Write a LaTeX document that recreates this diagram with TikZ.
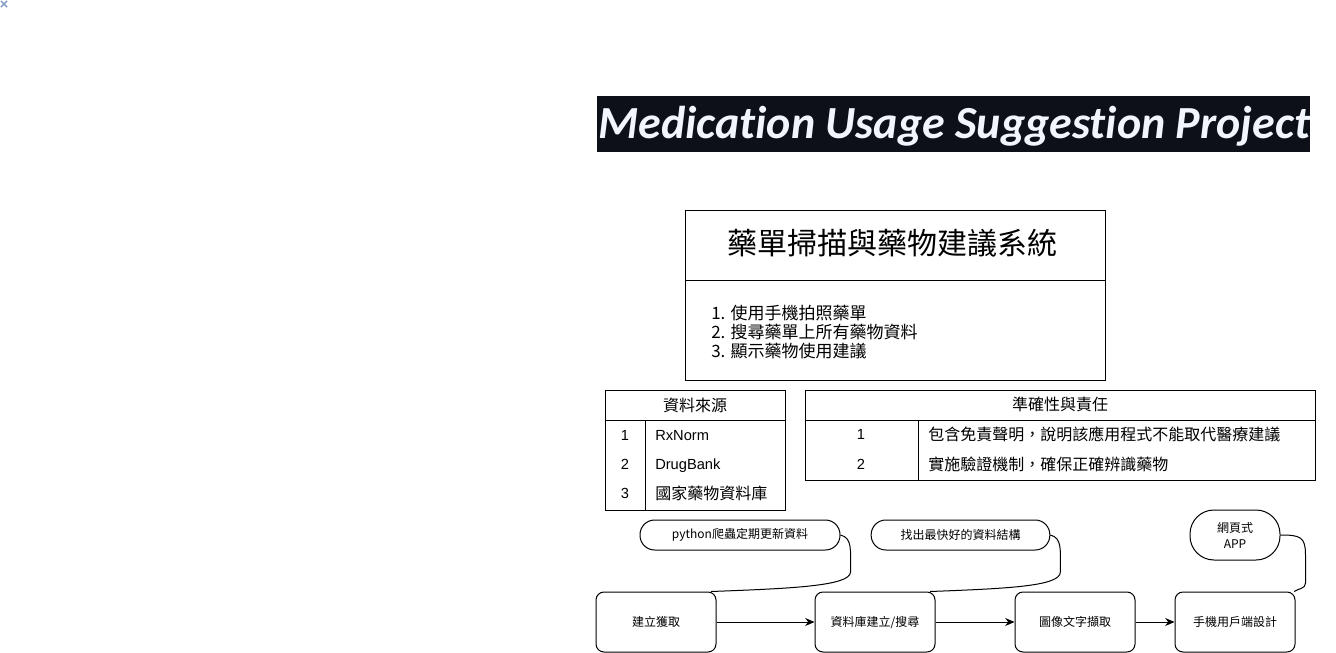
\documentclass[tikz,border=0pt]{standalone}
\definecolor{TitleBg}{HTML}{0D1117}
\definecolor{TitleFg}{HTML}{F0F6FC}
\definecolor{IconBlue}{HTML}{8AA4C8}
\usepackage{fontspec}
\setmainfont{Liberation Sans}
\newfontfamily\cjk{Noto Sans CJK TC}
\newfontfamily\titlefont[Ligatures=NoCommon]{Carlito}
\usetikzlibrary{arrows.meta, positioning}

\begin{document}
\begin{tikzpicture}[x=0.75pt, y=-0.75pt]
        % Boxes, pills and links
        \tikzset{
          frame/.style={draw=black, line width=0.75pt},
          stepbox/.style={draw, rounded corners=6pt, line width=0.75pt, minimum width=90pt,
                          minimum height=45pt, inner sep=0pt, font=\cjk\fontsize{9}{11}\selectfont},
          pill/.style={draw, rounded corners=11pt, line width=0.75pt, minimum height=22.5pt,
                       inner sep=0pt, font=\cjk\fontsize{9}{11}\selectfont},
          cell/.style={inner sep=0pt, text height=9pt, text depth=1.5pt, font=\cjk\fontsize{12}{14}\selectfont},
          latcell/.style={inner sep=0pt, text height=8pt, text depth=1.5pt, font=\fontsize{11}{13}\selectfont},
          flow/.style={-{Stealth[length=7pt, width=6pt]}, line width=0.75pt},
          link/.style={line width=0.75pt}
        }
        \useasboundingbox (0,0) rectangle (1336,653);

        % Broken image mark
        \draw[IconBlue, line width=1.1pt] (1,1) -- (7,7) (1,7) -- (7,1);

        % Title
        \node[fill=TitleBg, minimum width=534.75pt, minimum height=42pt, inner sep=0pt] (titlebar) at (953.5,124) {};
        \node[anchor=base west, inner sep=0pt, text=TitleFg, font=\titlefont\bfseries\itshape\fontsize{34.5}{38}\selectfont]
          (title) at (598,138) {Medication Usage Suggestion Project};

        % System box
        \draw[frame] (685,210) rectangle (1105,380);
        \draw[frame] (685,280) -- (1105,280);
        \node[inner sep=0pt, font=\cjk\fontsize{22.5}{26}\selectfont] (sysname) at (892,243) {藥單掃描與藥物建議系統};
        \node[inner sep=0pt, anchor=west, align=left, font=\cjk\fontsize{12.75}{14.25}\selectfont]
          (features) at (711,332) {1. 使用手機拍照藥單\\2. 搜尋藥單上所有藥物資料\\3. 顯示藥物使用建議};

        % Data sources table
        \draw[frame] (605,390) rectangle (785,510);
        \draw[frame] (605,420) -- (785,420);
        \draw[frame] (645,420) -- (645,510);
        \node[cell] (srchead) at (695,406) {資料來源};
        \node[latcell] (srcnum1) at (625,436) {1};
        \node[latcell] (srcnum2) at (625,465) {2};
        \node[latcell] (srcnum3) at (625,494) {3};
        \node[latcell, anchor=west] (src1) at (655,436) {RxNorm};
        \node[latcell, anchor=west] (src2) at (655,465) {DrugBank};
        \node[cell, anchor=west] (src3) at (655,494) {國家藥物資料庫};

        % Accuracy table
        \draw[frame] (805,390) rectangle (1315,480);
        \draw[frame] (805,420) -- (1315,420);
        \draw[frame] (918,420) -- (918,480);
        \node[cell] (acchead) at (1060,405) {準確性與責任};
        \node[latcell] (accnum1) at (861,435) {1};
        \node[latcell] (accnum2) at (861,465) {2};
        \node[cell, anchor=west] (acc1) at (928,435) {包含免責聲明，說明該應用程式不能取代醫療建議};
        \node[cell, anchor=west] (acc2) at (928,465) {實施驗證機制，確保正確辨識藥物};

        % Flow steps
        \node[stepbox] (acq) at (656,622) {建立獲取};
        \node[stepbox] (dbase) at (875,622) {資料庫建立/搜尋};
        \node[stepbox] (ocr) at (1075,622) {圖像文字擷取};
        \node[stepbox] (mobile) at (1235,622) {手機用戶端設計};

        \draw[flow] (acq) -- (dbase);
        \draw[flow] (dbase) -- (ocr);
        \draw[flow] (ocr) -- (mobile);

        % Notes
        \node[pill, minimum width=150pt] (crawl) at (740,535) {python爬蟲定期更新資料};
        \node[pill, minimum width=134pt] (struct) at (960.5,535) {找出最快好的資料結構};
        \node[pill, minimum width=67.5pt, minimum height=37.5pt, rounded corners=18pt, align=center,
              font=\cjk\fontsize{9}{12}\selectfont] (webapp) at (1235,535) {網頁式\\APP};

        \draw[link] (crawl.east) .. controls +(12,3) and +(0,-22) .. ++(10,37)
          .. controls +(0,14) and +(80,-3) .. ([xshift=-4pt]acq.north east);
        \draw[link] (struct.east) .. controls +(12,3) and +(0,-22) .. ++(10,37)
          .. controls +(0,14) and +(80,-3) .. ([xshift=-4pt]dbase.north east);
        \draw[link] (webapp.east) .. controls +(20,0) and +(0,-18) .. ++(25,20)
          -- ++(0,28) .. controls +(0,6) and +(4,-3) .. ([xshift=-1pt]mobile.north east);
      \end{tikzpicture}
\end{document}
